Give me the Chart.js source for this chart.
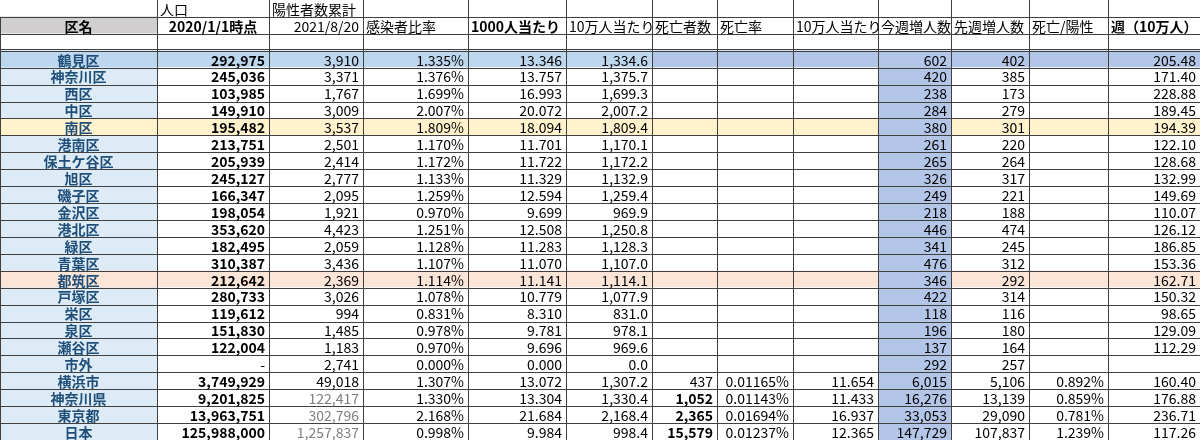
<!DOCTYPE html>
<html><head><meta charset="utf-8">
<script src="https://cdn.jsdelivr.net/npm/chart.js@4/dist/chart.umd.min.js"></script>
<style>html,body{margin:0;padding:0;background:#fff}#w{width:1200px;height:440px}</style>
</head><body><div id="w"><canvas id="c"></canvas></div>
<script>
const names=['鶴見区','神奈川区','西区','中区','南区','港南区','保土ケ谷区','旭区','磯子区','金沢区','港北区','緑区','青葉区','都筑区','戸塚区','栄区','泉区','瀬谷区','市外','横浜市','神奈川県','東京都','日本'];
const population=[292975,245036,103985,149910,195482,213751,205939,245127,166347,198054,353620,182495,310387,212642,280733,119612,151830,122004,null,3749929,9201825,13963751,125988000];
const cumulative=[3910,3371,1767,3009,3537,2501,2414,2777,2095,1921,4423,2059,3436,2369,3026,994,1485,1183,2741,49018,122417,302796,1257837];
const ratio=[1.335,1.376,1.699,2.007,1.809,1.170,1.172,1.133,1.259,0.970,1.251,1.128,1.107,1.114,1.078,0.831,0.978,0.970,0.000,1.307,1.330,2.168,0.998];
const per1000=[13.346,13.757,16.993,20.072,18.094,11.701,11.722,11.329,12.594,9.699,12.508,11.283,11.070,11.141,10.779,8.310,9.781,9.696,0.000,13.072,13.304,21.684,9.984];
const per100k=[1334.6,1375.7,1699.3,2007.2,1809.4,1170.1,1172.2,1132.9,1259.4,969.9,1250.8,1128.3,1107.0,1114.1,1077.9,831.0,978.1,969.6,0.0,1307.2,1330.4,2168.4,998.4];
const deaths=[null,null,null,null,null,null,null,null,null,null,null,null,null,null,null,null,null,null,null,437,1052,2365,15579];
const deathRate=[null,null,null,null,null,null,null,null,null,null,null,null,null,null,null,null,null,null,null,0.01165,0.01143,0.01694,0.01237];
const death100k=[null,null,null,null,null,null,null,null,null,null,null,null,null,null,null,null,null,null,null,11.654,11.433,16.937,12.365];
const thisWeek=[602,420,238,284,380,261,265,326,249,218,446,341,476,346,422,118,196,137,292,6015,16276,33053,147729];
const lastWeek=[402,385,173,279,301,220,264,317,221,188,474,245,312,292,314,116,180,164,257,5106,13139,29090,107837];
const deathPos=[null,null,null,null,null,null,null,null,null,null,null,null,null,null,null,null,null,null,null,0.892,0.859,0.781,1.239];
const week100k=[205.48,171.40,228.88,189.45,194.39,122.10,128.68,132.99,149.69,110.07,126.12,186.85,153.36,162.71,150.32,98.65,129.09,112.29,null,160.40,176.88,236.71,117.26];
const header1=['','人口','陽性者数累計','','','','','','','','','',''];
const header2=['区名','2020/1/1時点','2021/8/20','感染者比率','1000人当たり','10万人当たり','死亡者数','死亡率','10万人当たり','今週増人数','先週増人数','死亡/陽性','週（10万人）'];

const edges=[0,157,269,363,468,566,652,717,793,878,951,1029,1108,1200];
const rows=['h1','h2','blank',...names];
const nf=(v,d)=>v==null?'':v.toLocaleString('en-US',{minimumFractionDigits:d,maximumFractionDigits:d});
const pf=(v,d)=>v==null?'':v.toFixed(d)+'%';
const cols=[
 i=>names[i], i=>population[i]==null?'-':nf(population[i],0), i=>nf(cumulative[i],0), i=>pf(ratio[i],3),
 i=>nf(per1000[i],3), i=>nf(per100k[i],1), i=>nf(deaths[i],0), i=>pf(deathRate[i],5), i=>nf(death100k[i],3),
 i=>nf(thisWeek[i],0), i=>nf(lastWeek[i],0), i=>pf(deathPos[i],3), i=>nf(week100k[i],2)];
function bg(c,r){
 if(r===1) return c===0?'#d0cece':'#ffffff';
 if(r<3) return '#ffffff';
 const i=r-3;
 if(c===9) return '#b4c6e7';
 if(i===0) return c<=5?'#bdd7ee':'#b4c6e7';
 if(i===4) return '#fff2cc';
 if(i===13) return '#fce4d6';
 if(c===0) return '#ddebf7';
 return '#ffffff';
}
const datasets=edges.slice(0,-1).map((e,c)=>({
 data:rows.map(()=>[edges[c],edges[c+1]]),
 backgroundColor:rows.map((_,r)=>bg(c,r)),
 barPercentage:1,categoryPercentage:1,borderWidth:0,grouped:false
}));
const FONT='"Noto Sans CJK JP","Noto Sans",sans-serif';
const tablePlugin={id:'tbl',afterDatasetsDraw(ch){
 const {ctx,scales:{x,y}}=ch;
 const rh=y.getPixelForValue(1)-y.getPixelForValue(0);
 ctx.save();
 ctx.strokeStyle='#404040';ctx.lineWidth=1;
 for(let r=1;r<=rows.length;r++){
  const yy=Math.round(y.getPixelForValue(r)-rh/2)+0.5;
  ctx.beginPath();ctx.moveTo(0,yy);ctx.lineTo(1200,yy);ctx.stroke();
  if(r===3){ctx.beginPath();ctx.moveTo(0,yy-2);ctx.lineTo(1200,yy-2);ctx.stroke();}
 }
 const top=y.getPixelForValue(0)-rh/2,bot=y.getPixelForValue(rows.length-1)+rh/2;
 edges.forEach((e,k)=>{const xx=Math.round(x.getPixelForValue(e))+0.5;
  ctx.beginPath();ctx.moveTo(xx,k===0?top+rh:top);ctx.lineTo(xx,bot);ctx.stroke();});
 ctx.textBaseline='middle';
 const put=(t,c,r,align,bold,color)=>{
  if(!t) return;
  const x0=x.getPixelForValue(edges[c]),x1=x.getPixelForValue(edges[c+1]);
  const yy=y.getPixelForValue(r)+1;
  ctx.font=(bold?'bold ':'')+'14px '+FONT;ctx.fillStyle=color||'#000';
  ctx.textAlign=align;
  const px=align==='left'?x0+3:align==='right'?x1-4:(x0+x1)/2;
  ctx.fillText(t,px,yy);
 };
 header1.forEach((t,c)=>put(t,c,0,'left',false));
 header2.forEach((t,c)=>{
  const al=c===0||c===1?'center':c===2?'right':'left';
  put(t,c,1,al,c===0||c===1||c===4||c===12);
 });
 names.forEach((n,i)=>{
  const r=i+3;
  cols.forEach((f,c)=>{
   if(c===0){put(f(i),0,r,'center',true,'#1f4e79');return;}
   let bold=c===1&&i!==18; let color='#000';
   if(c===6&&i>=20) bold=true;
   if(c===2&&i>=20) color='#7f7f7f';
   if(c===1&&i===18){put('-',1,r,'right',false);return;}
   put(f(i),c,r,'right',bold,color);
  });
 });
 ctx.restore();
}};
new Chart(document.getElementById('c'),{
 type:'bar',
 data:{labels:rows,datasets},
 options:{indexAxis:'y',responsive:true,maintainAspectRatio:false,animation:false,
  layout:{padding:0},
  plugins:{legend:{display:false},tooltip:{enabled:false}},
  scales:{x:{type:'linear',min:0,max:1200,display:false},
          y:{type:'category',display:false,offset:true,grid:{display:false}}}},
 plugins:[tablePlugin]
});
</script></body></html>
